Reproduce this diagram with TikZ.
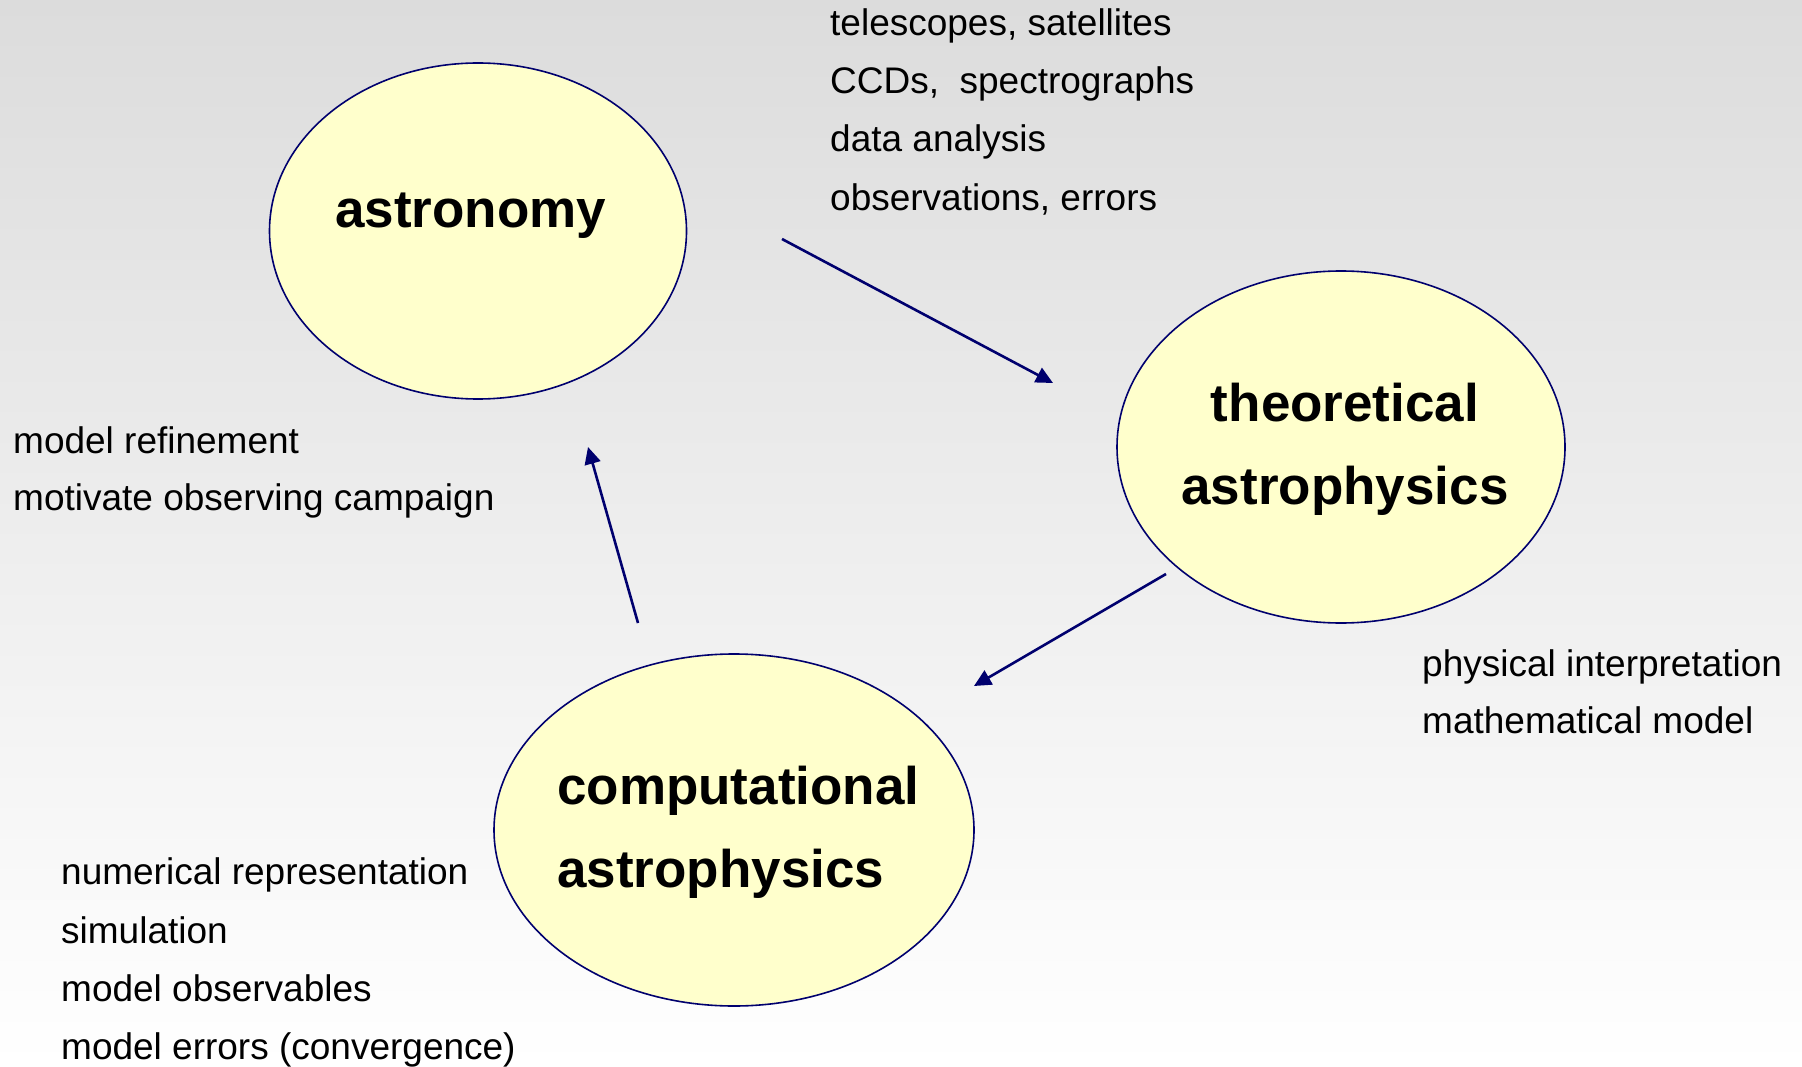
\documentclass[tikz,border=0pt]{standalone}
\usepackage{fontspec}
\setmainfont{Liberation Sans}
\usetikzlibrary{shapes.geometric,arrows.meta}
\definecolor{navy}{RGB}{0,0,110}
\definecolor{bubble}{RGB}{255,255,204}
\definecolor{bgtop}{RGB}{220,220,220}
\begin{document}
\begin{tikzpicture}[x=1pt,y=-1pt,
  bubble/.style={ellipse,draw=navy,line width=1.6pt,fill=bubble,inner sep=0pt},
  title/.style={font=\fontsize{53}{60}\selectfont\bfseries,inner sep=0pt,anchor=base west},
  note/.style={font=\fontsize{37}{44}\selectfont,inner sep=0pt,anchor=base west},
  flow/.style={draw=navy,line width=2.6pt,-{Triangle[length=17pt,width=16pt]}}]
  % background
  \shade[top color=bgtop,bottom color=white] (0,0) rectangle (1802,1067);
  \useasboundingbox (0,0) rectangle (1802,1067);

  % the three fields
  \node[bubble,minimum width=417,minimum height=336] (astro) at (478,231) {};
  \node[bubble,minimum width=448,minimum height=352] (theo) at (1341,447) {};
  \node[bubble,minimum width=480,minimum height=352] (comp) at (734,830) {};

  \node[title] (astrot) at (335,228) {astronomy};
  \node[title,anchor=base] (theot1) at (1345,421) {theoretical};
  \node[title,anchor=base] (theot2) at (1345,504) {astrophysics};
  \node[title] (compt1) at (557,804) {computational};
  \node[title] (compt2) at (557,887) {astrophysics};

  % arrow end points
  \coordinate (a1s) at (782,239);
  \coordinate (a1e) at (1053,383);
  \coordinate (a2s) at (1166,574);
  \coordinate (a2e) at (974,686);
  \coordinate (a3s) at (638,623);
  \coordinate (a3e) at (588,447);
  \draw[flow] (a1s) -- (a1e);
  \draw[flow] (a2s) -- (a2e);
  \draw[flow] (a3s) -- (a3e);

  % observing side
  \node[note] (n1) at (830,36) {telescopes, satellites};
  \node[note] (n2) at (830,94) {CCDs,\ \ spectrographs};
  \node[note] (n3) at (830,152) {data analysis};
  \node[note] (n4) at (830,211) {observations, errors};

  % theory side
  \node[note] (t1) at (1422,676) {physical interpretation};
  \node[note] (t2) at (1422,733) {mathematical model};

  % computation side
  \node[note] (c1) at (61,884) {numerical representation};
  \node[note] (c2) at (61,943) {simulation};
  \node[note] (c3) at (61,1001) {model observables};
  \node[note] (c4) at (61,1059) {model errors (convergence)};

  % feedback
  \node[note] (f1) at (13,453) {model refinement};
  \node[note] (f2) at (13,510) {motivate observing campaign};
\end{tikzpicture}
\end{document}
